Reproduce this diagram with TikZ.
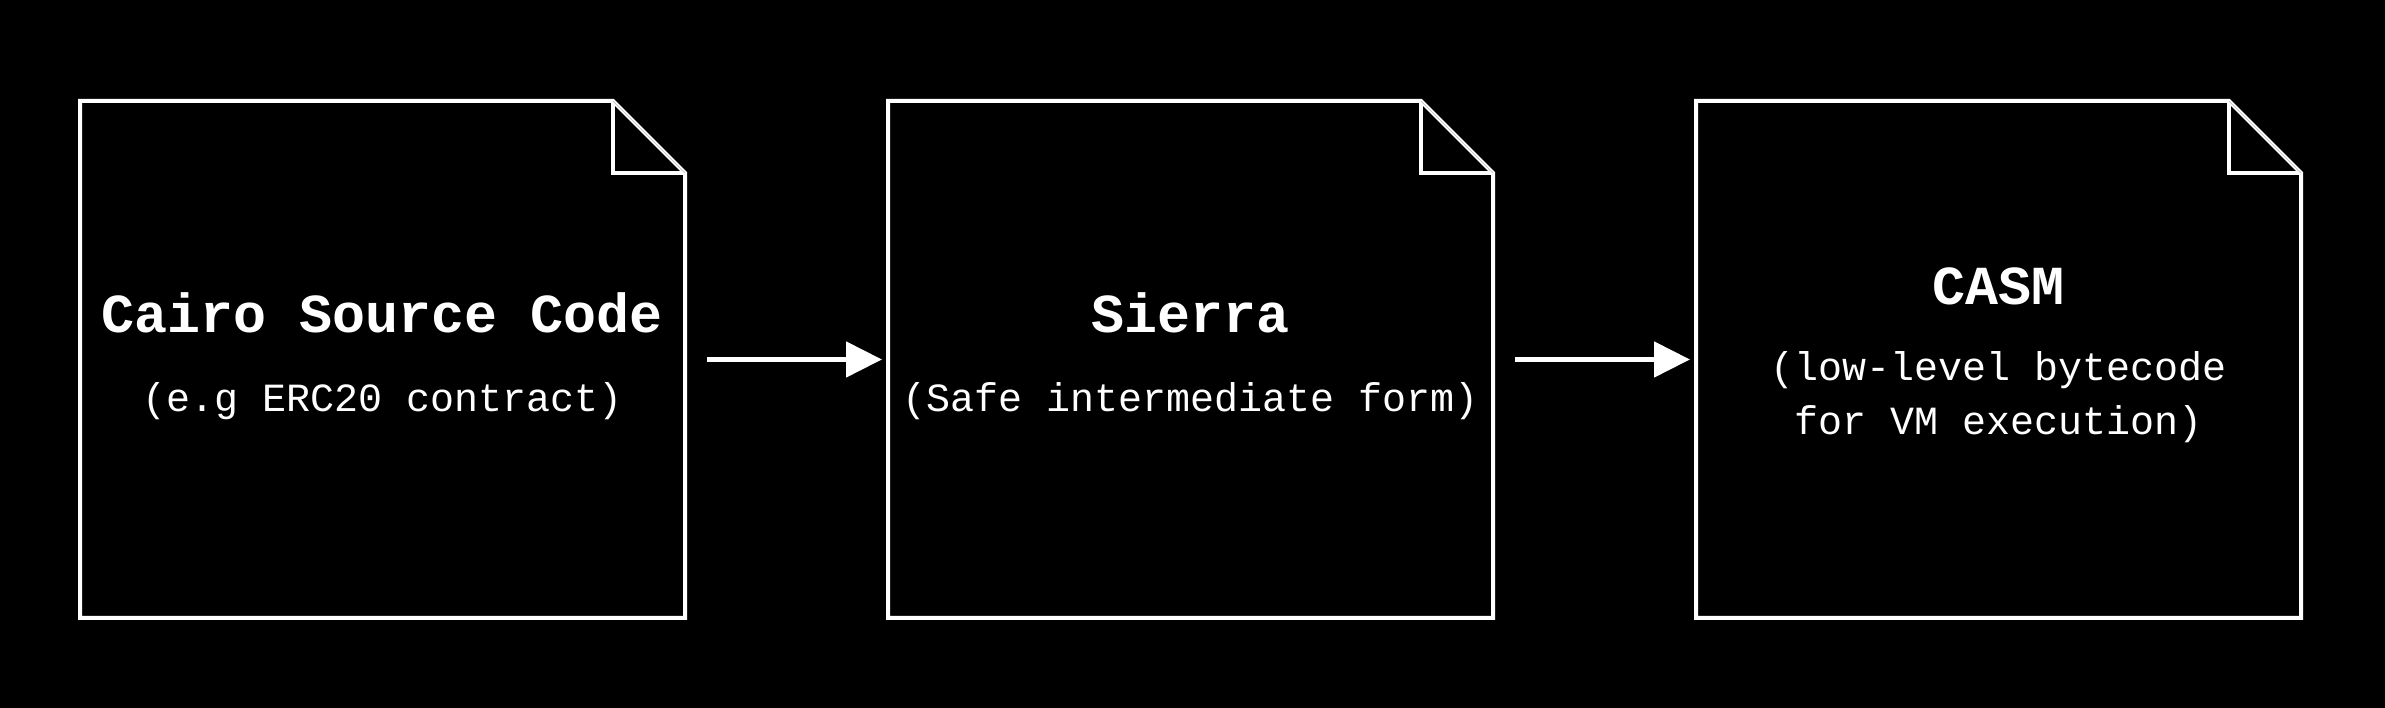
\documentclass[tikz,border=0pt]{standalone}
\usepackage{fontspec}
\usepackage{tikz}
\usetikzlibrary{arrows.meta,positioning}
\newfontfamily\docfont{Liberation Mono}

\begin{document}
\begin{tikzpicture}[x=1pt,y=1pt]
\tikzstyle{every node}+=[inner sep=0pt, outer sep=0pt, text=white]
\tikzstyle{doc}=[minimum width=605pt, minimum height=517pt]
\tikzstyle{docline}=[white, line width=4pt]
\tikzstyle{foldline}=[white!80!black, line width=0.8pt]
\tikzstyle{titletext}=[font=\docfont\bfseries\fontsize{55}{66}\selectfont]
\tikzstyle{subtext}=[font=\docfont\fontsize{40}{54}\selectfont, align=center]
\tikzstyle{flow}=[white, line width=5pt, -{Triangle[length=36pt,width=35pt]}, shorten <=22pt, shorten >=6pt]
\fill [black] (0,0) rectangle (2385,708);
\useasboundingbox (0,0) rectangle (2385,708);
% documents
\node [doc] (cairo) at (382.5,348.5) {};
\node [doc, right=203pt of cairo] (sierra) {};
\node [doc, right=203pt of sierra] (casm) {};
\draw [docline] (cairo.north west) -- ([xshift=-72pt]cairo.north east) -- ([yshift=-72pt]cairo.north east) -- (cairo.south east) -- (cairo.south west) -- cycle;
\draw [docline] ([xshift=-72pt]cairo.north east) |- ([yshift=-72pt]cairo.north east);
\draw [foldline] ([xshift=-72pt]cairo.north east) -- ([yshift=-72pt]cairo.north east);
\draw [docline] (sierra.north west) -- ([xshift=-72pt]sierra.north east) -- ([yshift=-72pt]sierra.north east) -- (sierra.south east) -- (sierra.south west) -- cycle;
\draw [docline] ([xshift=-72pt]sierra.north east) |- ([yshift=-72pt]sierra.north east);
\draw [foldline] ([xshift=-72pt]sierra.north east) -- ([yshift=-72pt]sierra.north east);
\draw [docline] (casm.north west) -- ([xshift=-72pt]casm.north east) -- ([yshift=-72pt]casm.north east) -- (casm.south east) -- (casm.south west) -- cycle;
\draw [docline] ([xshift=-72pt]casm.north east) |- ([yshift=-72pt]casm.north east);
\draw [foldline] ([xshift=-72pt]casm.north east) -- ([yshift=-72pt]casm.north east);
% labels
\node [titletext, anchor=base] (cairo-title) at ([yshift=26.5pt]cairo.center) {Cairo Source Code};
\node [subtext, anchor=base] (cairo-sub) at ([yshift=-52.5pt]cairo.center) {(e.g ERC20 contract)};
\node [titletext, anchor=base] (sierra-title) at ([yshift=26.5pt]sierra.center) {Sierra};
\node [subtext, anchor=base] (sierra-sub) at ([yshift=-52.5pt]sierra.center) {(Safe intermediate form)};
\node [titletext, anchor=base] (casm-title) at ([yshift=54.5pt]casm.center) {CASM};
\node [subtext, anchor=base] (casm-sub) at ([yshift=-75.5pt]casm.center) {(low-level bytecode\\for VM execution)};
% arrows
\draw [flow] (cairo.east) -- (sierra.west);
\draw [flow] (sierra.east) -- (casm.west);
\end{tikzpicture}
\end{document}
